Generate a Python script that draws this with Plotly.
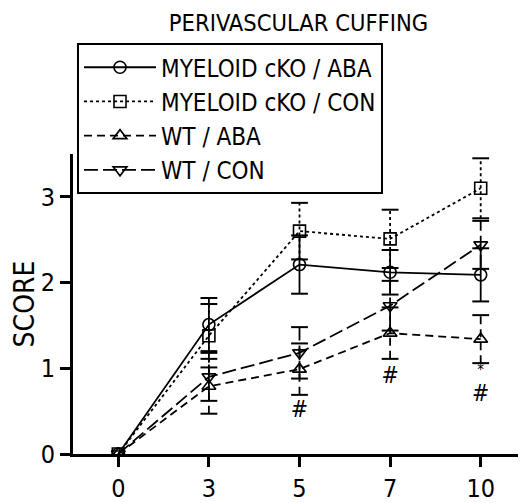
import plotly.graph_objects as go

days = ["0", "3", "5", "7", "10"]

cko_aba = [0, 1.51, 2.21, 2.12, 2.09]
cko_aba_err = [0, 0.31, 0.34, 0.26, 0.31]
cko_con = [0, 1.38, 2.60, 2.51, 3.10]
cko_con_err = [0, 0.37, 0.33, 0.34, 0.35]
wt_aba = [0, 0.79, 0.99, 1.41, 1.34]
wt_aba_err = [0, 0.32, 0.30, 0.30, 0.28]
wt_con = [0, 0.90, 1.18, 1.73, 2.44]
wt_con_err = [0, 0.28, 0.30, 0.29, 0.28]

sig_x = ["5", "7", "10"]
sig_y = [0.50, 0.90, 0.69]
sig_text = ["#", "#", "#"]
star_x = ["10"]
star_y = [0.96]
star_text = ["*"]

FONT = "DejaVu Sans Condensed, Liberation Sans Narrow, Arial Narrow, sans-serif"

series = [
    ("MYELOID cKO / ABA", cko_aba, cko_aba_err, "circle-open", "solid"),
    ("MYELOID cKO / CON", cko_con, cko_con_err, "square-open", "3px,3px"),
    ("WT / ABA", wt_aba, wt_aba_err, "triangle-up-open", "8px,5px"),
    ("WT / CON", wt_con, wt_con_err, "triangle-down-open", "14px,5px"),
]

fig = go.Figure()

# error bars (stems + caps)
for name, vals, errs, sym, dash in series:
    sx, sy, cx, cy = [], [], [], []
    for d, v, e in zip(days, vals, errs):
        if e <= 0:
            continue
        sx += [d, d, None]
        sy += [v - e, v + e, None]
        cx += [d, d]
        cy += [v - e, v + e]
    fig.add_trace(go.Scatter(x=sx, y=sy, mode="lines", showlegend=False,
                             line=dict(color="black", width=1.8, dash=dash),
                             hoverinfo="skip"))
    fig.add_trace(go.Scatter(x=cx, y=cy, mode="markers", showlegend=False,
                             marker=dict(symbol="line-ew", size=12, color="black",
                                         line=dict(color="black", width=2)),
                             hoverinfo="skip"))

for name, vals, errs, sym, dash in series:
    fig.add_trace(go.Scatter(
        x=days, y=vals, mode="lines+markers", name=name,
        line=dict(color="black", width=1.8, dash=dash),
        marker=dict(symbol=sym, size=12, color="black",
                    line=dict(color="black", width=1.6)),
    ))

fig.add_trace(go.Scatter(x=sig_x, y=sig_y, mode="text", text=sig_text,
                         showlegend=False, hoverinfo="skip",
                         textfont=dict(family=FONT, size=23, color="black")))
fig.add_trace(go.Scatter(x=star_x, y=star_y, mode="text", text=star_text,
                         showlegend=False, hoverinfo="skip",
                         textfont=dict(family=FONT, size=15, color="black")))

# the page body adds an 8px offset; figure coordinates compensate for it
fig.update_layout(
    width=526, height=503,
    margin=dict(l=65, r=8, t=145.5, b=53),
    paper_bgcolor="white", plot_bgcolor="white",
    font=dict(family=FONT, color="black", size=24),
    title=dict(text="PERIVASCULAR CUFFING", x=290.5 / 526, xanchor="center",
               y=1 - 15 / 503, yanchor="middle",
               font=dict(family=FONT, size=23.5, color="black")),
    showlegend=True,
    legend=dict(x=4 / 453, y=(450 - 33) / 304.5, xanchor="left", yanchor="top",
                bordercolor="black", borderwidth=2, bgcolor="white",
                itemwidth=72, font=dict(family=FONT, size=24, color="black"),
                tracegroupgap=0),
    xaxis=dict(type="category", categoryorder="array", categoryarray=days,
               range=[-0.5, 4.5], showgrid=False, zeroline=False,
               showline=True, linecolor="black", linewidth=3,
               ticks="outside", ticklen=10, tickwidth=2.5, tickcolor="black",
               tickfont=dict(family=FONT, size=25, color="black")),
    yaxis=dict(range=[0, 3.5], showgrid=False, zeroline=False,
               showline=True, linecolor="black", linewidth=3,
               ticks="outside", ticklen=10, tickwidth=2.5, tickcolor="black",
               tickvals=[0, 1, 2, 3],
               tickfont=dict(family=FONT, size=25, color="black"),
               title=dict(text="SCORE", standoff=5,
                          font=dict(family=FONT, size=28, color="black"))),
)

fig.write_html("out.html")
